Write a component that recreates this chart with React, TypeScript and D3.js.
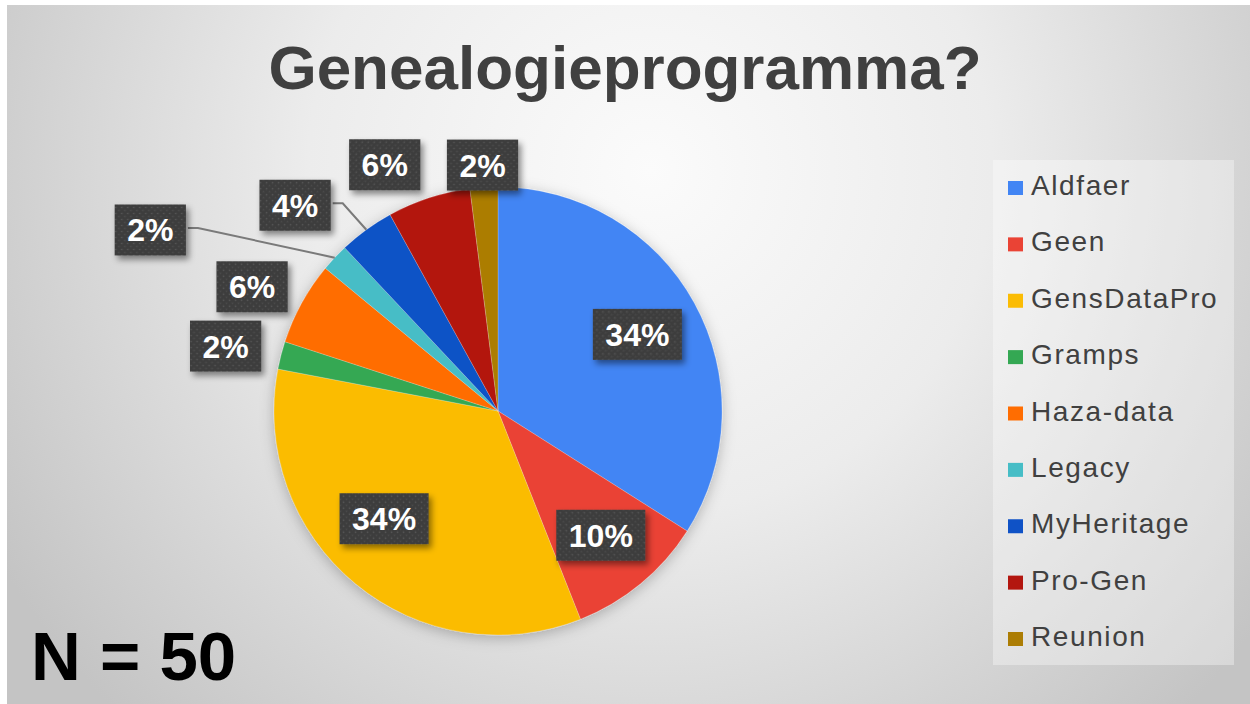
import * as d3 from "d3";
import { useEffect, useRef } from "react";

const categories = ["Aldfaer", "Geen", "GensDataPro", "Gramps", "Haza-data", "Legacy", "MyHeritage", "Pro-Gen", "Reunion"];
const counts = [17, 5, 17, 1, 3, 1, 2, 3, 1];
const colors = ["#4285f4", "#ea4335", "#fbbc04", "#34a853", "#ff6d01", "#46bdc6", "#0f52c6", "#b3160f", "#ac7d04"];

// label placement: radius factor and angle nudge (deg) from slice middle
const labelRadius = [0.71, 0.72, 0.7, 1.25, 1.23, 1.75, 1.29, 1.21, 1.1];
const labelShift = [0, 0, 7, -1, -2, -15.7, -8.6, -6.7, 0];
const withLeader = [false, false, false, false, false, true, true, false, false];

const W = 1250;
const H = 704;

export default function App() {
  const ref = useRef<SVGSVGElement>(null);

  useEffect(() => {
    if (!ref.current) return;
    const svg = d3.select(ref.current);
    svg.selectAll("*").remove();

    const defs = svg.append("defs");
    const bg = defs.append("radialGradient")
      .attr("id", "bg")
      .attr("gradientUnits", "userSpaceOnUse")
      .attr("cx", 650).attr("cy", 170).attr("r", 760);
    bg.append("stop").attr("offset", "0").attr("stop-color", "#fbfbfb");
    bg.append("stop").attr("offset", "0.45").attr("stop-color", "#ececec");
    bg.append("stop").attr("offset", "1").attr("stop-color", "#c4c4c4");

    const pat = defs.append("pattern")
      .attr("id", "dots").attr("patternUnits", "userSpaceOnUse")
      .attr("width", 6).attr("height", 6);
    pat.append("rect").attr("width", 6).attr("height", 6).attr("fill", "#3e3e3e");
    pat.append("circle").attr("cx", 1.5).attr("cy", 1.5).attr("r", 0.8).attr("fill", "#5a5a5a");
    pat.append("circle").attr("cx", 4.5).attr("cy", 4.5).attr("r", 0.8).attr("fill", "#4c4c4c");

    const sh = defs.append("filter").attr("id", "boxShadow")
      .attr("x", "-20%").attr("y", "-20%").attr("width", "150%").attr("height", "160%");
    sh.append("feDropShadow").attr("dx", 3).attr("dy", 4).attr("stdDeviation", 3)
      .attr("flood-color", "#000").attr("flood-opacity", 0.45);

    const pieSh = defs.append("filter").attr("id", "pieShadow")
      .attr("x", "-20%").attr("y", "-20%").attr("width", "140%").attr("height", "140%");
    pieSh.append("feDropShadow").attr("dx", 0).attr("dy", 3).attr("stdDeviation", 7)
      .attr("flood-color", "#000").attr("flood-opacity", 0.25);

    svg.append("rect").attr("width", W).attr("height", H).attr("fill", "#ffffff");
    svg.append("rect").attr("x", 7).attr("y", 5).attr("width", W - 7).attr("height", H - 5).attr("fill", "url(#bg)");

    svg.append("text")
      .attr("x", 625).attr("y", 89)
      .attr("text-anchor", "middle")
      .attr("font-family", "Liberation Sans, Arial, sans-serif")
      .attr("font-weight", "bold")
      .attr("font-size", 62)
      .attr("fill", "#404040")
      .text("Genealogieprogramma?");

    const cx = 498, cy = 411, R = 224;
    const total = d3.sum(counts);
    const pie = d3.pie<number>().sort(null).value((d) => d);
    const arcs = pie(counts);
    const arc = d3.arc<d3.PieArcDatum<number>>().innerRadius(0).outerRadius(R);

    const g = svg.append("g").attr("transform", `translate(${cx},${cy})`);
    g.append("g").attr("filter", "url(#pieShadow)")
      .selectAll("path")
      .data(arcs)
      .enter()
      .append("path")
      .attr("d", arc as any)
      .attr("fill", (d, i) => colors[i])
      .attr("stroke", "rgba(255,255,255,0.25)")
      .attr("stroke-width", 0.8);

    const fmt = d3.format(".0%");
    const labels = g.append("g");
    arcs.forEach((d, i) => {
      const mid = (d.startAngle + d.endAngle) / 2;
      const a = mid + (labelShift[i] * Math.PI) / 180;
      const [lx, ly] = d3.pointRadial(a, R * labelRadius[i]);
      const lg = labels.append("g").attr("transform", `translate(${lx},${ly})`);
      const rect = lg.append("rect").attr("fill", "url(#dots)").attr("filter", "url(#boxShadow)");
      const txt = lg.append("text")
        .attr("text-anchor", "middle")
        .attr("y", 11.5)
        .attr("font-family", "Liberation Sans, Arial, sans-serif")
        .attr("font-weight", "bold")
        .attr("font-size", 32)
        .attr("fill", "#ffffff")
        .text(fmt(d.value / total));
      const tw = (txt.node() as SVGTextElement).getComputedTextLength();
      const bw = tw + 25, bh = 51;
      rect.attr("x", -bw / 2).attr("y", -bh / 2).attr("width", bw).attr("height", bh);

      if (withLeader[i]) {
        const [ex, ey] = d3.pointRadial(mid, R);
        const sx = lx + bw / 2 + 2;
        const sy = ly - 2;
        labels.insert("path", ":first-child")
          .attr("d", d3.line()([[sx, sy], [sx + 10, sy], [ex, ey]]) as string)
          .attr("fill", "none")
          .attr("stroke", "#7a7a7a")
          .attr("stroke-width", 2);
      }
    });

    // legend
    const lx0 = 993, ly0 = 160;
    svg.append("rect")
      .attr("x", lx0).attr("y", ly0).attr("width", 241).attr("height", 505)
      .attr("fill", "#ffffff").attr("fill-opacity", 0.35);
    const rowY = d3.scalePoint<string>().domain(categories).range([195, 646]);
    const items = svg.append("g").selectAll("g")
      .data(categories)
      .enter()
      .append("g")
      .attr("transform", (c) => `translate(1008,${rowY(c)})`);
    items.append("rect")
      .attr("x", 0).attr("y", -14).attr("width", 15).attr("height", 14)
      .attr("fill", (c, i) => colors[i]);
    items.append("text")
      .attr("x", 23).attr("y", 0)
      .attr("font-family", "Liberation Sans, Arial, sans-serif")
      .attr("font-size", 28)
      .attr("letter-spacing", 1.6)
      .attr("fill", "#404040")
      .text((c) => c);

    svg.append("text")
      .attr("x", 31).attr("y", 680)
      .attr("font-family", "Liberation Sans, Arial, sans-serif")
      .attr("font-weight", "bold")
      .attr("font-size", 69)
      .attr("fill", "#000000")
      .text("N = 50");
  }, []);

  return (
    <svg
      ref={ref}
      width={W}
      height={H}
      style={{ position: "fixed", left: 0, top: 0, display: "block" }}
    />
  );
}
